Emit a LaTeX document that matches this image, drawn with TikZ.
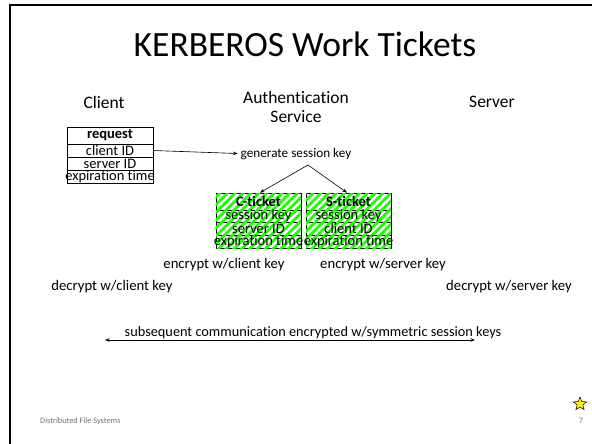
\documentclass[tikz,border=0pt]{standalone}
\usepackage{fontspec}
\setmainfont{Carlito}[Ligatures=NoCommon]
\usetikzlibrary{arrows.meta,shapes.geometric,patterns.meta}
\tikzset{
  lbl/.style={inner sep=0pt, font=\fontsize{17.5}{20}\selectfont},
  small/.style={inner sep=0pt, font=\fontsize{13.2}{15}\selectfont},
  mid/.style={inner sep=0pt, font=\fontsize{14.7}{16}\selectfont},
  cell/.style={draw, line width=0.7pt, inner sep=0pt, minimum width=86pt, font=\fontsize{14.5}{15}\selectfont},
  tcell/.style={cell, minimum width=85pt,
     postaction={pattern={Lines[angle=45,distance=5.5pt,line width=2.8pt]}, pattern color=green!85!lime}},
  ttext/.style={inner sep=0pt, font=\fontsize{14.5}{15}\selectfont},
  arr/.style={-{Stealth[length=4.5pt,width=3.5pt]}, line width=0.6pt},
  darr/.style={{Stealth[length=4.5pt,width=3.5pt]}-{Stealth[length=4.5pt,width=3.5pt]}, line width=0.6pt},
}
\newcommand{\ovr}[1]{\makebox[0pt]{#1}}
\begin{document}
\begin{tikzpicture}[x=1pt,y=-1pt]
\useasboundingbox (0,0) rectangle (592,444);
\fill[white] (0,0) rectangle (592,444);
% frame
\draw[line width=2pt] (10,444) -- (10,5.5) -- (592,5.5);
% title
\node[inner sep=0pt, font=\fontsize{35.5}{40}\selectfont] (title) at (305,44) {KERBEROS Work Tickets};
% headers
\node[lbl] (client) at (104,102) {Client};
\node[lbl] (auth) at (296,97) {Authentication};
\node[lbl] (serv) at (296,117) {Service};
\node[lbl] (server) at (492,102) {Server};
% request table
\node[cell, minimum height=17pt, font=\bfseries\fontsize{14.5}{15}\selectfont] (req) at (110,135.5) {request};
\node[cell, minimum height=13pt] (cid) at (110,150.5) {client ID};
\node[cell, minimum height=13pt] (sid) at (110,163.5) {server ID};
\node[cell, minimum height=13pt] (exp) at (110,176.5) {\ovr{expiration time}};
% generate
\node[small] (gen) at (296,154) {generate session key};
\draw[arr] (cid.east) -- ([xshift=-3pt,yshift=0.5pt]gen.west);
\coordinate (apex) at (308,165);
% C-ticket
\node[tcell, minimum height=17pt] (ct) at (258.5,201.5) {};
\node[tcell, minimum height=12pt] (ct1) at (258.5,216) {};
\node[tcell, minimum height=13pt] (ct2) at (258.5,228.5) {};
\node[tcell, minimum height=13pt] (ct3) at (258.5,241.5) {};
% S-ticket
\node[tcell, minimum height=17pt] (st) at (348.5,201.5) {};
\node[tcell, minimum height=12pt] (st1) at (348.5,216) {};
\node[tcell, minimum height=13pt] (st2) at (348.5,228.5) {};
\node[tcell, minimum height=13pt] (st3) at (348.5,241.5) {};
% texts on tickets
\node[ttext, font=\bfseries\fontsize{14.5}{15}\selectfont] (ctt) at (ct) {C-ticket};
\node[ttext] (ct1t) at (ct1) {session key};
\node[ttext] (ct2t) at (ct2) {server ID};
\node[ttext] (ct3t) at (ct3) {\ovr{expiration time}};
\node[ttext, font=\bfseries\fontsize{14.5}{15}\selectfont] (stt) at (st) {S-ticket};
\node[ttext] (st1t) at (st1) {session key};
\node[ttext] (st2t) at (st2) {client ID};
\node[ttext] (st3t) at (st3) {\ovr{expiration time}};
\draw[arr] (apex) -- ([xshift=1.5pt]ct.north);
\draw[arr] (apex) -- ([xshift=-1.5pt]st.north);
% encrypt/decrypt
\node[mid] (encc) at (224,265) {encrypt w/client key};
\node[mid] (encs) at (383,265) {encrypt w/server key};
\node[mid] (decc) at (112,287) {decrypt w/client key};
\node[mid] (decs) at (509,287) {decrypt w/server key};
% bottom
\coordinate (bl) at (105,340);
\coordinate (br) at (475,340);
\draw[darr] (bl) -- (br);
\node[inner sep=0pt, font=\fontsize{14.3}{16}\selectfont] (sub) at (313,333) {subsequent communication encrypted w/symmetric session keys};
% footer
\node[inner sep=0pt, font=\fontsize{8.3}{9}\selectfont, text=black!55, anchor=west] (foot) at (40,421) {Distributed File Systems};
\node[inner sep=0pt, font=\fontsize{8.3}{9}\selectfont, text=black!55] (pg) at (581,421) {7};
\node[star, star points=5, star point ratio=2.3, draw=black, fill=yellow, line width=0.5pt, minimum size=14pt, inner sep=0pt] (star) at (580,404) {};
\end{tikzpicture}
\end{document}
